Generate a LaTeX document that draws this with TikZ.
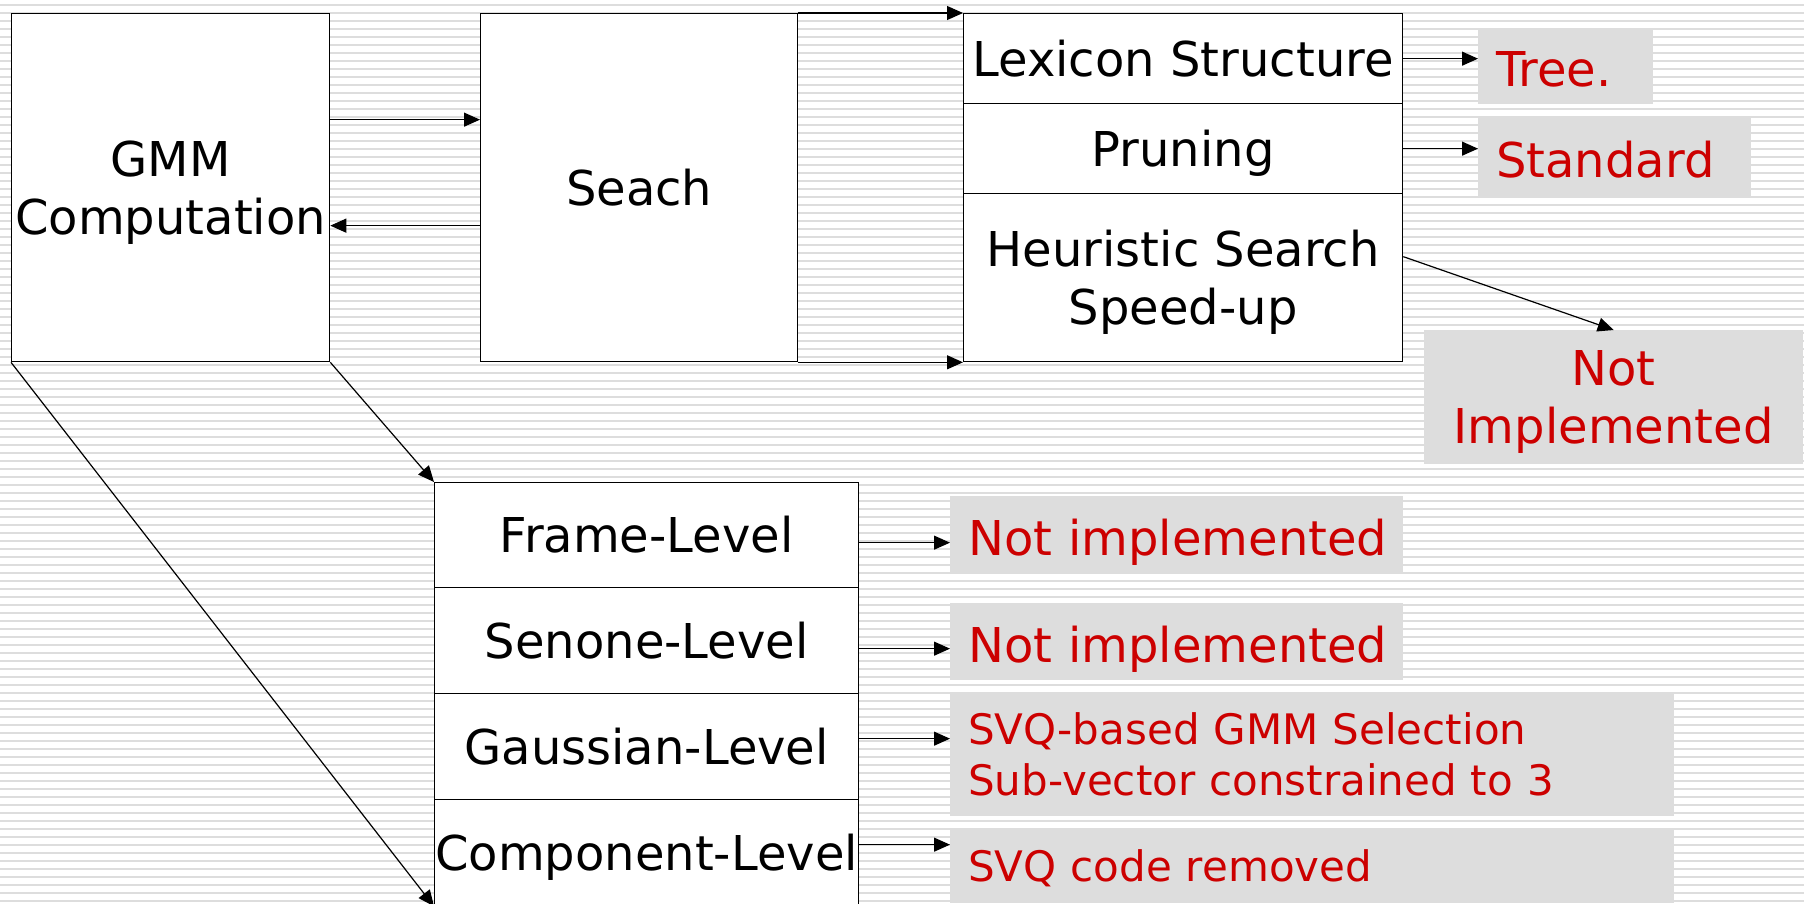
\documentclass[tikz,border=0pt]{standalone}
\usepackage{fontspec}
\setmainfont{DejaVu Sans}
\usetikzlibrary{arrows.meta,calc}
\definecolor{stripe}{RGB}{221,221,221}
\definecolor{boxgray}{RGB}{221,221,221}
\definecolor{redtext}{RGB}{204,0,0}
\begin{document}
\begin{tikzpicture}[x=1pt,y=-1pt,
  blk/.style={draw=black, line width=1.3pt, fill=white, anchor=north west, inner sep=0pt,
    align=center, font=\fontsize{48}{58}\selectfont},
  one/.style={text height=35pt, text depth=0pt},
  multi/.style={text depth=0pt},
  note/.style={fill=boxgray, anchor=north west, inner xsep=18pt, inner ysep=0pt,
    text=redtext, align=left, font=\fontsize{48}{58}\selectfont},
  rone/.style={text height=41pt, text depth=0pt},
  smallnote/.style={note, font=\fontsize{42}{51}\selectfont},
  arr/.style={line width=1.2pt, -{Triangle[length=16pt,width=14pt]}},
]
\useasboundingbox (0,0) rectangle (1812,903);
\clip (0,0) rectangle (1812,903);
\fill[white] (0,0) rectangle (1812,903);
\foreach \k in {0,...,112} \draw[stripe, line width=2pt] (0,5+8*\k) -- (1804,5+8*\k);

% upper row
\node[blk, multi, minimum width=318pt, minimum height=348pt] (gmm) at (11,13) {GMM\\Computation};
\node[blk, one, minimum width=317pt, minimum height=348pt] (seach) at (480,13) {Seach};
\node[blk, one, minimum width=439pt, minimum height=90pt] (lex) at (963,13) {Lexicon Structure};
\node[blk, one, minimum width=439pt, minimum height=90pt] (prun) at (963,103) {Pruning};
\node[blk, multi, minimum width=439pt, minimum height=168pt] (heur) at (963,193) {Heuristic Search\\Speed-up};

% lower stack
\node[blk, one, minimum width=424pt, minimum height=105pt] (frame) at (434,482) {Frame-Level};
\node[blk, one, minimum width=424pt, minimum height=106pt] (senone) at (434,587) {Senone-Level};
\node[blk, one, minimum width=424pt, minimum height=106pt] (gauss) at (434,693) {Gaussian-Level};
\node[blk, one, minimum width=424pt, minimum height=106pt] (comp) at (434,799) {Component-Level};

% red notes
\node[note, rone, text width=139pt, minimum height=76pt] (tree) at (1478,28) {\mbox{Tree.}};
\node[note, rone, text width=237pt, minimum height=79pt] (std) at (1478,117) {\mbox{Standard}};
\node[fill=boxgray, text=redtext, anchor=north west, inner sep=0pt, align=center,
  font=\fontsize{48}{58}\selectfont, multi, minimum width=379pt, minimum height=134pt] (niup) at (1424,330) {Not\\Implemented};
\node[note, rone, text width=417pt, minimum height=77pt] (ni1) at (950,496) {\mbox{Not implemented}};
\node[note, rone, text width=417pt, minimum height=77pt] (ni2) at (950,603) {\mbox{Not implemented}};
\node[smallnote, text width=688pt, minimum height=123pt] (svq) at (950,693) {\mbox{SVQ-based GMM Selection}\\\mbox{Sub-vector constrained to 3}};
\node[smallnote, one, text height=31pt, text width=688pt, minimum height=74pt] (svqr) at (950,829) {\mbox{SVQ code removed}};

% connectors
\draw[arr] ([yshift=68pt]gmm.east) -- ([yshift=68pt]seach.west);
\draw[arr] ([yshift=-38pt]seach.west) -- ([yshift=-38pt]gmm.east);
\draw[arr] (seach.north east) -- (lex.north west);
\draw[arr] (seach.south east) -- (heur.south west);
\draw[arr] (lex.east) -- (lex.east -| tree.west);
\draw[arr] (prun.east) -- (prun.east -| std.west);
\draw[arr] ([yshift=21pt]heur.east) -- (niup.north);
\draw[arr] (gmm.south east) -- (frame.north west);
\draw[arr] (gmm.south west) -- (comp.south west);
\draw[arr] ([yshift=-7.5pt]frame.east) -- ([yshift=-7.5pt]frame.east -| ni1.west);
\draw[arr] ([yshift=-8pt]senone.east) -- ([yshift=-8pt]senone.east -| ni2.west);
\draw[arr] ([yshift=8pt]gauss.east) -- ([yshift=8pt]gauss.east -| svq.west);
\draw[arr] ([yshift=8pt]comp.east) -- ([yshift=8pt]comp.east -| svqr.west);
\end{tikzpicture}
\end{document}
